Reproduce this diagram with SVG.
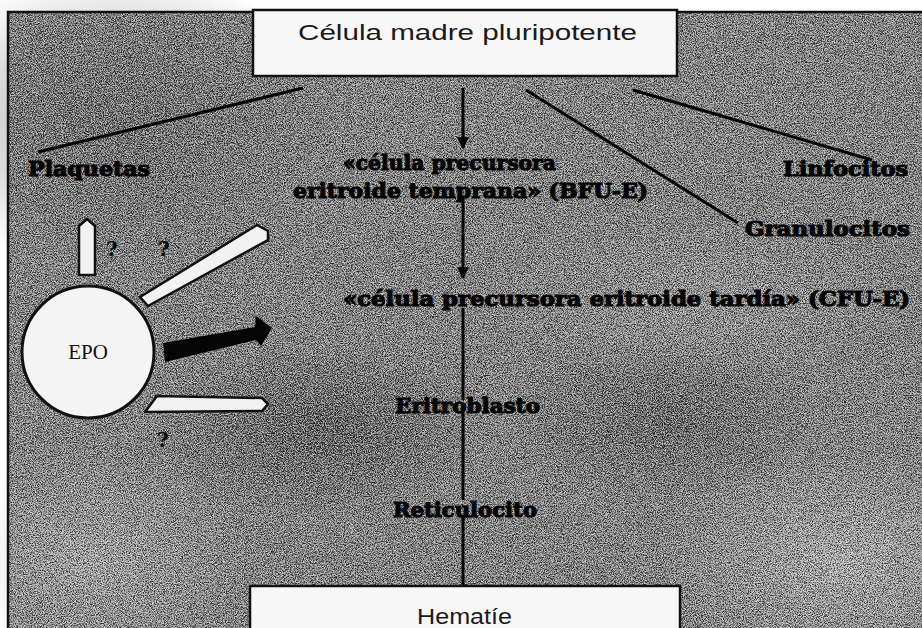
<svg xmlns="http://www.w3.org/2000/svg" width="922" height="628" viewBox="0 0 922 628">
<style>
.lbl{font-family:"DejaVu Serif","Liberation Serif",serif;font-weight:bold;font-size:21px;fill:#050505;stroke:#050505;stroke-width:1.1px}
.box{fill:#f7f7f7;stroke:#111;stroke-width:2.5}
.boxtxt{font-family:"Liberation Sans",Arial,sans-serif;font-size:22px;fill:#1a1a1a}
.ln{stroke:#050505;stroke-width:3;fill:none}
.warrow{fill:#f2f2f2;stroke:#111;stroke-width:2.5;stroke-linejoin:round}
.q{font-family:"DejaVu Serif",serif;font-weight:bold;font-size:20px;fill:#0a0a0a}
</style>
<defs>
<radialGradient id="d1" cx="0.5" cy="0.5" r="0.5"><stop offset="0" stop-color="#2e2e2e" stop-opacity="0.75"/><stop offset="1" stop-color="#2e2e2e" stop-opacity="0"/></radialGradient>
<radialGradient id="l1" cx="0.5" cy="0.5" r="0.5"><stop offset="0" stop-color="#d8d8d8" stop-opacity="0.7"/><stop offset="1" stop-color="#d8d8d8" stop-opacity="0"/></radialGradient>
<filter id="noise" x="0" y="0" width="100%" height="100%">
<feTurbulence type="fractalNoise" baseFrequency="0.85" numOctaves="2" seed="7"/>
<feColorMatrix type="matrix" values="0 0 0 0 0  0 0 0 0 0  0 0 0 0 0  4 0 0 0 -1.5"/>
</filter>
<filter id="noise2" x="0" y="0" width="100%" height="100%">
<feTurbulence type="fractalNoise" baseFrequency="0.9" numOctaves="2" seed="21"/>
<feColorMatrix type="matrix" values="0 0 0 0 1  0 0 0 0 1  0 0 0 0 1  4 0 0 0 -1.6"/>
</filter>
<marker id="ah" viewBox="0 0 10 10" refX="9" refY="5" markerWidth="4" markerHeight="4" orient="auto" markerUnits="strokeWidth">
<path d="M0,0 L10,5 L0,10 z" fill="#050505"/>
</marker>
</defs>
<rect width="922" height="628" fill="#ffffff"/>
<g id="background">
<rect x="8" y="12" width="914" height="616" fill="#7e7e7e"/>
<ellipse cx="120" cy="120" rx="220" ry="150" fill="url(#d1)" opacity="0.6"/>
<ellipse cx="320" cy="430" rx="170" ry="90" fill="url(#d1)"/>
<ellipse cx="660" cy="420" rx="160" ry="80" fill="url(#d1)" opacity="0.8"/>
<ellipse cx="840" cy="560" rx="180" ry="110" fill="url(#l1)"/>
<ellipse cx="90" cy="560" rx="160" ry="110" fill="url(#l1)" opacity="0.8"/>
<ellipse cx="700" cy="300" rx="200" ry="80" fill="url(#l1)" opacity="0.4"/>
<rect x="8" y="12" width="914" height="616" filter="url(#noise)" opacity="0.65"/>
<rect x="8" y="12" width="914" height="616" filter="url(#noise2)" opacity="0.6"/>
<path d="M8,628 L8,12 L922,12" fill="none" stroke="#111" stroke-width="2.5"/>
</g>
<g id="connectors">
<line class="ln" x1="303" y1="88" x2="38" y2="152"/>
<line class="ln" x1="633" y1="90" x2="872" y2="160"/>
<line class="ln" x1="526" y1="90" x2="738" y2="223"/>
<line class="ln" x1="463" y1="88" x2="463" y2="148" marker-end="url(#ah)"/>
<line class="ln" x1="463" y1="198" x2="463" y2="278" marker-end="url(#ah)"/>
<line class="ln" x1="463" y1="308" x2="463" y2="400"/>
<line class="ln" x1="463" y1="410" x2="463" y2="500"/>
<line class="ln" x1="463" y1="515" x2="463" y2="586"/>
</g>
<g id="n-celula-madre">
<rect class="box" x="253" y="10" width="424" height="66"/>
<text class="boxtxt" x="298" y="40" textLength="339" lengthAdjust="spacingAndGlyphs">Célula madre pluripotente</text>
</g>
<g id="n-hematie">
<rect class="box" x="250" y="586" width="430" height="50"/>
<text class="boxtxt" x="417" y="624" textLength="95" lengthAdjust="spacingAndGlyphs">Hematíe</text>
</g>
<g id="n-plaquetas"><text class="lbl" x="28" y="176" textLength="122" lengthAdjust="spacingAndGlyphs">Plaquetas</text></g>
<g id="n-linfocitos"><text class="lbl" x="783" y="176" textLength="125" lengthAdjust="spacingAndGlyphs">Linfocitos</text></g>
<g id="n-granulocitos"><text class="lbl" x="745" y="236" textLength="165" lengthAdjust="spacingAndGlyphs">Granulocitos</text></g>
<g id="n-bfue">
<text class="lbl" x="343" y="170" textLength="213" lengthAdjust="spacingAndGlyphs">«célula precursora</text>
<text class="lbl" x="293" y="198" textLength="355" lengthAdjust="spacingAndGlyphs">eritroide temprana»  (BFU-E)</text>
</g>
<g id="n-cfue"><text class="lbl" x="343" y="306" textLength="567" lengthAdjust="spacingAndGlyphs">«célula precursora eritroide tardía»  (CFU-E)</text></g>
<g id="n-eritroblasto"><text class="lbl" x="395" y="413" textLength="145" lengthAdjust="spacingAndGlyphs">Eritroblasto</text></g>
<g id="n-reticulocito"><text class="lbl" x="393" y="517" textLength="144" lengthAdjust="spacingAndGlyphs">Reticulocito</text></g>
<g id="n-epo">
<circle cx="88" cy="352" r="66" fill="#f4f4f4" stroke="#111" stroke-width="3"/>
<text x="88" y="359" text-anchor="middle" font-family="Liberation Serif,serif" font-size="21" fill="#111">EPO</text>
<polygon class="warrow" points="79,275 79,226 87,219 95,226 95,275"/>
<polygon class="warrow" points="140,297 257,225 268,231 268,240 148,306"/>
<polygon fill="#050505" points="163,343 255,327 256,316 272,328 261,346 256,340 165,362"/>
<polygon class="warrow" points="157,396 262,398 268,404 262,411 145,412"/>
<text class="q" x="106" y="256">?</text>
<text class="q" x="158" y="256">?</text>
<text class="q" x="157" y="447">?</text>
</g>
</svg>
